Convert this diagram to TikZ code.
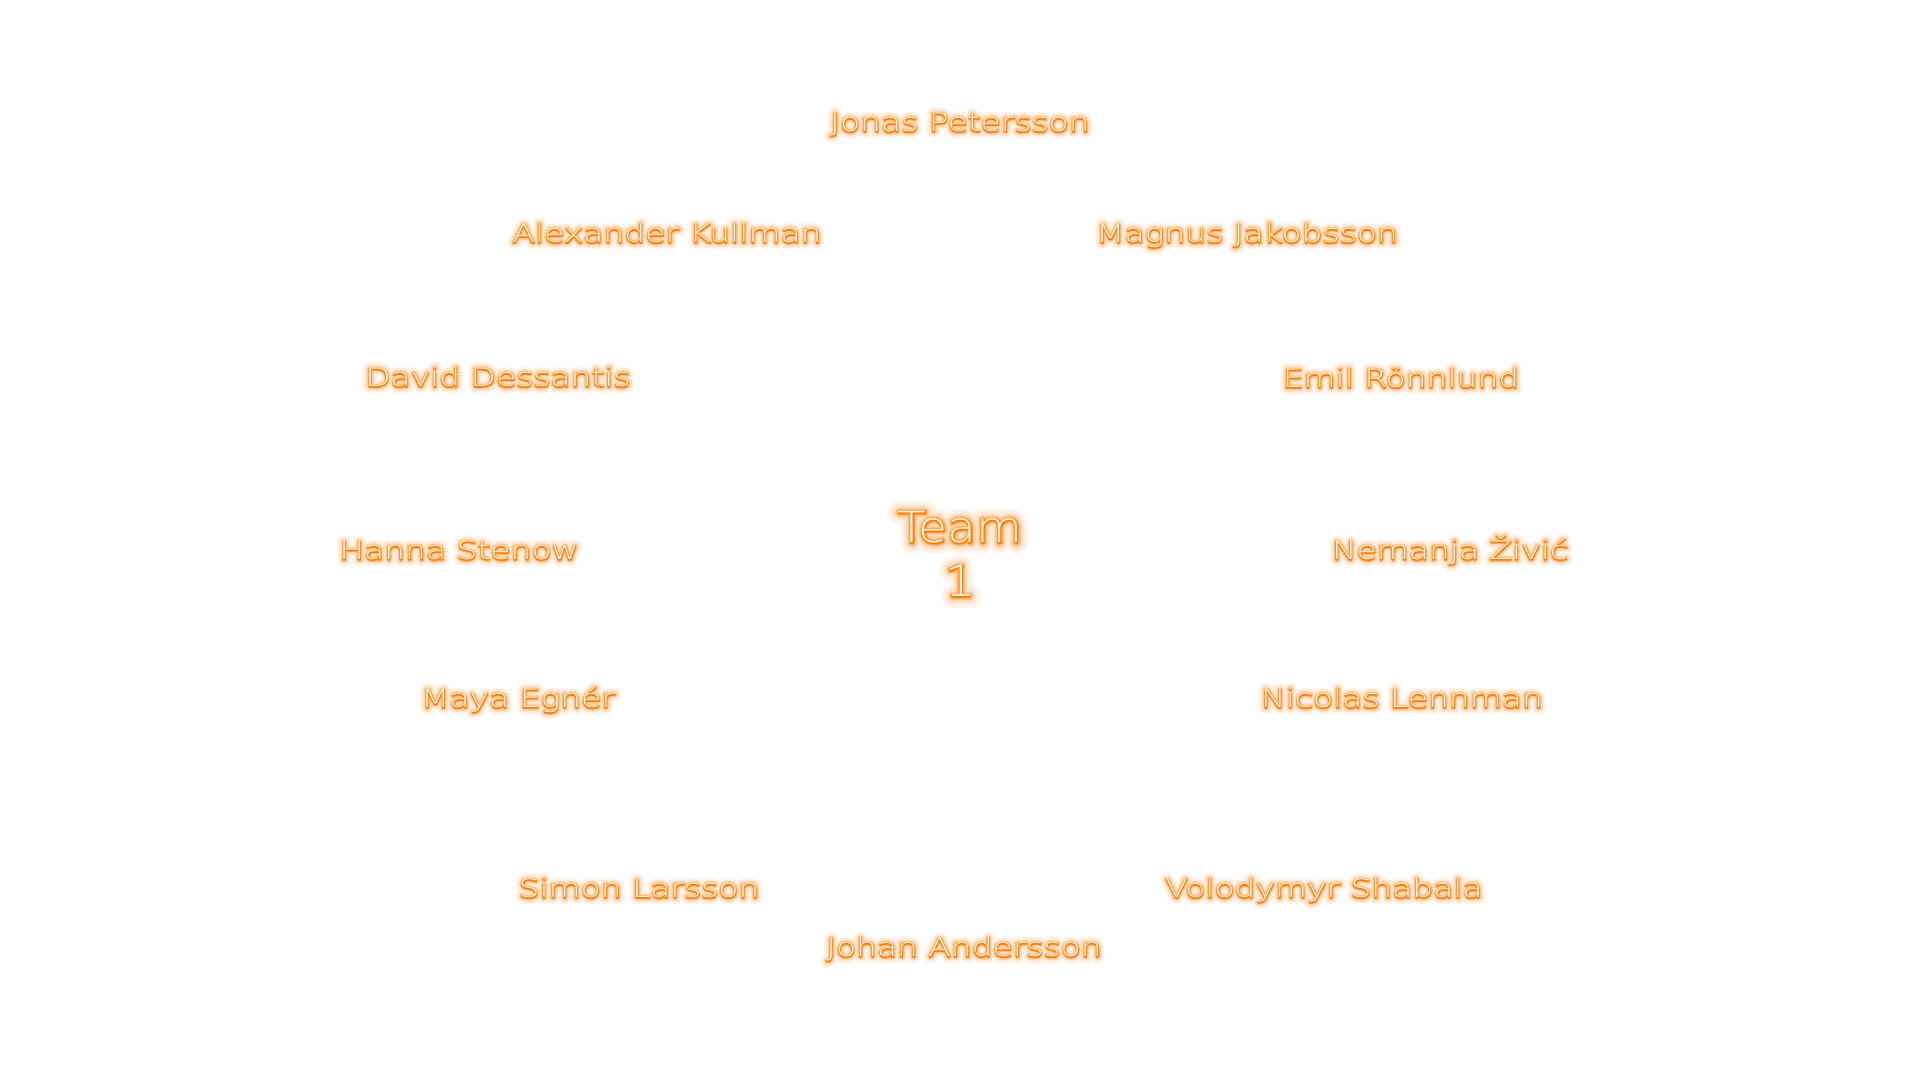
\documentclass[tikz,border=0pt]{standalone}
\usepackage{fontspec}
\usetikzlibrary{positioning}
\newfontfamily\memberfont[FakeStretch=1.3]{DejaVu Sans ExtraLight}
\newfontfamily\teamfont[FakeStretch=1.1]{DejaVu Sans ExtraLight}
\definecolor{glowhot}{HTML}{FF7A00}
\definecolor{glowcore}{HTML}{FFF6E2}
% texte lumineux : halos orange sous le texte clair
\newcommand\glowlayer[3]{\rlap{\makebox[\wd0][c]{\addfontfeature{FakeBold=#1}\color{glowhot!#2}#3}}}
\newcommand\glowtext[1]{\setbox0=\hbox{#1}%
\glowlayer{50}{7}{#1}\glowlayer{40}{11}{#1}\glowlayer{31}{17}{#1}%
\glowlayer{23}{27}{#1}\glowlayer{15}{45}{#1}\glowlayer{8}{75}{#1}%
\glowlayer{3}{100}{#1}%
{\color{glowcore}#1}}
\begin{document}
\begin{tikzpicture}[line join=round,member/.style={inner sep=0pt,anchor=base,font=\memberfont\fontsize{7.2}{9}\selectfont}]
\useasboundingbox (0,0) rectangle (19.2,10.8);
% Equipe
\node[inner sep=0pt,anchor=base,align=center,font=\teamfont\fontsize{12.2}{15.4}\selectfont] (team) at (9.60,4.83) {\glowtext{Team}\\\glowtext{1}};
% Membres
\node[member] (mb_1) at (9.60,9.48) {\glowtext{Jonas Petersson}};
\node[member] (mb_2) at (6.67,8.37) {\glowtext{Alexander Kullman}};
\node[member] (mb_3) at (12.47,8.37) {\glowtext{Magnus Jakobsson}};
\node[member] (mb_4) at (4.98,6.93) {\glowtext{David Dessantis}};
\node[member] (mb_5) at (14.01,6.92) {\glowtext{Emil Rönnlund}};
\node[member] (mb_6) at (4.59,5.20) {\glowtext{Hanna Stenow}};
\node[member] (mb_7) at (14.50,5.20) {\glowtext{Nemanja Živić}};
\node[member] (mb_8) at (5.18,3.72) {\glowtext{Maya Egnér}};
\node[member] (mb_9) at (14.02,3.72) {\glowtext{Nicolas Lennman}};
\node[member] (mb_10) at (6.39,1.82) {\glowtext{Simon Larsson}};
\node[member] (mb_11) at (13.24,1.82) {\glowtext{Volodymyr Shabala}};
\node[member] (mb_12) at (9.64,1.23) {\glowtext{Johan Andersson}};
\end{tikzpicture}
\end{document}
